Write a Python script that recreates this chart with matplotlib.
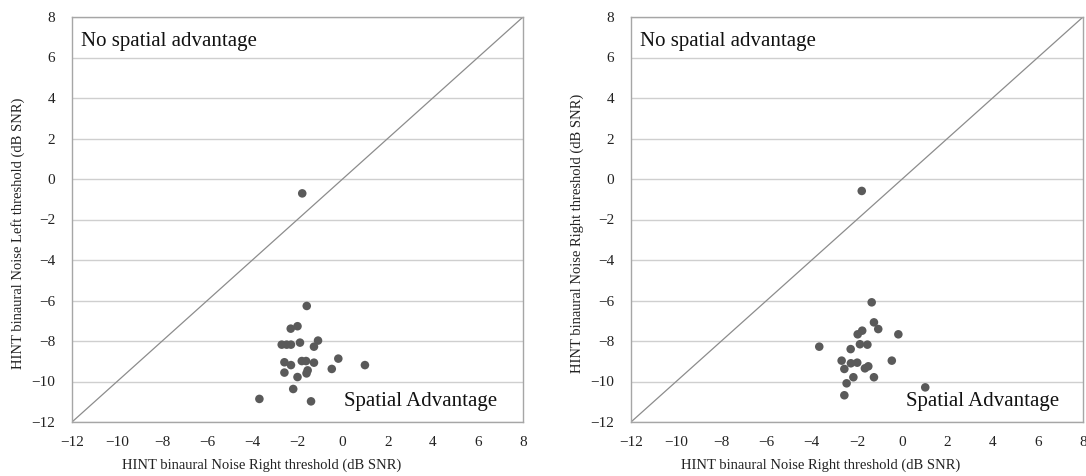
import matplotlib
matplotlib.use("Agg")
import matplotlib.pyplot as plt

plt.rcParams['font.family'] = ['Liberation Serif', 'DejaVu Serif']

left_x = [-1.59, -2.30, -2.00, -2.70, -2.48, -2.29, -1.89, -1.09, -1.27, -2.58,
          -2.29, -1.81, -1.62, -1.27, -0.19, 0.99, -0.48, -2.58, -1.55, -1.60,
          -2.00, -2.19, -3.69, -1.40, -1.79]
left_y = [-6.27, -7.39, -7.27, -8.18, -8.18, -8.18, -8.08, -7.98, -8.28, -9.05,
          -9.19, -8.99, -8.99, -9.07, -8.87, -9.19, -9.38, -9.56, -9.45, -9.60,
          -9.78, -10.37, -10.86, -10.98, -0.71]

right_x = [-1.35, -1.25, -1.06, -1.77, -1.97, -0.17, -3.67, -1.87, -1.54, -2.28,
           -2.68, -2.27, -1.99, -2.56, -1.65, -1.50, -0.46, -2.16, -1.25, -2.46,
           1.02, -2.56, -1.79]
right_y = [-6.09, -7.08, -7.41, -7.49, -7.67, -7.67, -8.28, -8.16, -8.18, -8.40,
           -8.97, -9.10, -9.07, -9.38, -9.35, -9.25, -8.97, -9.79, -9.79, -10.09,
           -10.29, -10.68, -0.59]

ticks = list(range(-12, 9, 2))
xlabel = "HINT binaural Noise Right threshold (dB SNR)"
ylabels = ["HINT binaural Noise Left threshold (dB SNR)",
           "HINT binaural Noise Right threshold (dB SNR)"]

fig = plt.figure(figsize=(10.86, 4.76), dpi=100)
ax1 = fig.add_axes([72/1086, 54/476, 451/1086, 405/476])
ax2 = fig.add_axes([631/1086, 54/476, 452/1086, 405/476])

for ax, xs, ys, yl in [(ax1, left_x, left_y, ylabels[0]), (ax2, right_x, right_y, ylabels[1])]:
    ax.set_xlim(-12, 8)
    ax.set_ylim(-12, 8)
    ax.set_xticks(ticks)
    ax.set_yticks(ticks)
    ax.tick_params(length=0, labelsize=11, colors='#222222')
    ax.tick_params(axis='x', pad=10)
    ax.tick_params(axis='y', pad=12)
    ax.yaxis.grid(True, color='#cfcfcf', linewidth=1.0)
    ax.set_axisbelow(True)
    for s in ax.spines.values():
        s.set_color('#a6a6a6')
        s.set_linewidth(1.0)
    ax.plot([-12, 8], [-12, 8], color='#8c8c8c', linewidth=0.9, zorder=2)
    ax.scatter(xs, ys, s=38, color='#5a5a5a', edgecolors='none', zorder=3)
    ax.set_xlabel(xlabel, fontsize=10.5, color='#222222')
    ax.set_ylabel(yl, fontsize=10.5, color='#222222')
    ax.xaxis.set_label_coords(0.42, -0.09)
    ax.yaxis.set_label_coords(-0.105, 0.465)
    ax.text(-11.6, 6.8, "No spatial advantage", fontsize=15, va='center', ha='left',
            color='#111111', zorder=4)

ax1.text(0.06, -11.0, "Spatial Advantage", fontsize=15, va='center', ha='left',
         color='#111111', zorder=4)
ax2.text(0.17, -11.0, "Spatial Advantage", fontsize=15, va='center', ha='left',
         color='#111111', zorder=4)

fig.savefig("out.png", dpi=100)
